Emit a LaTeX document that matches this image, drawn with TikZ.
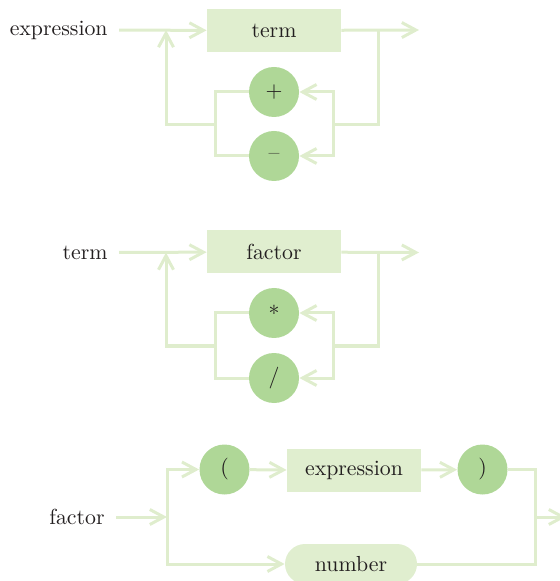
\documentclass[tikz,border=0pt]{standalone}
\usetikzlibrary{arrows.meta}
\usepackage{xcolor}
\definecolor{railgreen}{HTML}{DFEDCD}
\definecolor{boxgreen}{HTML}{E0EECF}
\definecolor{opgreen}{HTML}{AFD797}
\definecolor{inkgray}{HTML}{231F20}

\begin{document}
\begin{tikzpicture}[
  x=0.5pt, y=-0.5pt,
  every node/.style={font=\fontsize{10.9}{13}\selectfont, text=inkgray},
  lbl/.style={anchor=east, inner xsep=5.5pt, inner ysep=0pt},
  box/.style={fill=boxgreen, minimum width=67pt, minimum height=21.5pt, inner sep=0pt},
  numbox/.style={fill=boxgreen, rounded corners=10pt, minimum width=66pt, minimum height=20pt, inner sep=0pt},
  op/.style={circle, fill=opgreen, minimum size=25pt, inner sep=0pt},
  ln/.style={draw=railgreen, line width=1.5pt},
  arr/.style={ln, -{Straight Barb[length=7pt,width=7.5pt]}}
]
  \useasboundingbox (0,0) rectangle (559,581);

  % expression
  \node[lbl] (exprlbl) at (119,30) {expression};
  \node[box] (term1) at (274,30.5) {term};
  \node[op] (plus) at (274,92) {+};
  \node[op] (minus) at (274,156) {--};
  \coordinate (split1) at (378,30);
  \coordinate (out1) at (419,30);
  \coordinate (rj1) at (333,125);
  \coordinate (lj1) at (215,125);
  \coordinate (back1) at (166,30);

  \draw[arr] (exprlbl) -- (term1);
  \draw[arr] (term1) -- (out1);
  \draw[ln] (split1) |- (rj1);
  \draw[arr] (rj1) |- (plus);
  \draw[arr] (rj1) |- (minus);
  \draw[ln] (plus) -| (lj1);
  \draw[ln] (minus) -| (lj1);
  \draw[arr] (lj1) -| (back1);

  % term
  \node[lbl] (termlbl) at (119,252.5) {term};
  \node[box] (factor2) at (274,252) {factor};
  \node[op] (times) at (274,313) {*};
  \node[op] (divide) at (274,378) {/};
  \coordinate (split2) at (378,252.5);
  \coordinate (out2) at (419,252.5);
  \coordinate (rj2) at (333,346);
  \coordinate (lj2) at (215,346);
  \coordinate (back2) at (166,252.5);

  \draw[arr] (termlbl) -- (factor2);
  \draw[arr] (factor2) -- (out2);
  \draw[ln] (split2) |- (rj2);
  \draw[arr] (rj2) |- (times);
  \draw[arr] (rj2) |- (divide);
  \draw[ln] (times) -| (lj2);
  \draw[ln] (divide) -| (lj2);
  \draw[arr] (lj2) -| (back2);

  % factor
  \node[lbl] (factlbl) at (116,517) {factor};
  \node[op] (lpar) at (224.5,469.5) {(};
  \node[box] (expr3) at (354,470.5) {expression};
  \node[op] (rpar) at (482.5,469.5) {)};
  \node[numbox] (num) at (351,564) {number};
  \coordinate (fsplit) at (167,517);
  \coordinate (fjoin) at (535,517);
  \coordinate (fout) at (566,517);

  \draw[arr] (factlbl) -- (fsplit);
  \draw[arr] (fsplit) |- (lpar);
  \draw[arr] (fsplit) |- (num);
  \draw[arr] (lpar) -- (expr3);
  \draw[arr] (expr3) -- (rpar);
  \draw[ln] (rpar) -| (fjoin);
  \draw[ln] (num) -| (fjoin);
  \draw[arr] (fjoin) -- (fout);
\end{tikzpicture}
\end{document}
